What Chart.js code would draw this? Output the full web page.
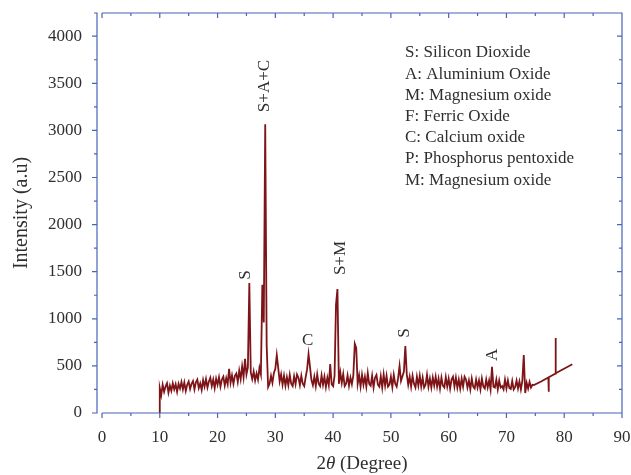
<!DOCTYPE html>
<html>
<head>
<meta charset="utf-8">
<script src="https://cdn.jsdelivr.net/npm/chart.js@4/dist/chart.umd.min.js"></script>
<style>
  body { margin: 0; background: #fff; }
  canvas { display: block; }
</style>
</head>
<body>
<canvas id="xrdChart" width="631" height="475"></canvas>
<script>
// diffraction angle grid: first reading and spacing (degrees)
const firstAngle = 10;
const angleStep = 0.25;

// intensity, one row per degree (10.00, 10.25, 10.50, 10.75 ...)
const intensity = [
  265, 190, 300, 225,
  280, 315, 215, 290,
  235, 315, 250, 305,
  225, 310, 260, 330,
  250, 325, 235, 300,
  335, 255, 310, 340,
  250, 325, 355, 265,
  315, 245, 350, 280,
  360, 270, 335, 375,
  285, 355, 265, 365,
  300, 380, 280, 355,
  385, 290, 370, 305,
  470, 320, 400, 310,
  395, 420, 330, 450,
  360, 495, 380, 575,
  410, 485, 1380, 430,
  360, 440, 345, 420,
  355, 480, 410, 1360,
  960, 3065, 720, 275,
  310, 395, 320, 425,
  470, 615, 480, 335,
  410, 300, 395, 290,
  380, 295, 405, 310,
  285, 390, 305, 410,
  375, 295, 395, 310,
  285, 380, 465, 625,
  490, 350, 295, 385,
  285, 410, 310, 285,
  400, 300, 385, 275,
  375, 295, 520, 305,
  285, 395, 1150, 1315,
  310, 430, 320, 415,
  285, 310, 400, 290,
  375, 305, 400, 735,
  690, 310, 400, 280,
  405, 300, 385, 280,
  425, 310, 290, 395,
  270, 375, 405, 300,
  280, 390, 270, 410,
  290, 395, 280, 300,
  385, 275, 405, 310,
  280, 370, 500, 340,
  390, 440, 710, 410,
  300, 385, 280, 395,
  310, 270, 385, 290,
  395, 280, 375, 270,
  300, 405, 280, 365,
  270, 375, 290, 385,
  280, 365, 260, 375,
  290, 270, 380, 280,
  365, 260, 355, 385,
  280, 375, 270, 355,
  260, 365, 280, 385,
  355, 270, 345, 250,
  365, 280, 260, 355,
  270, 345, 250, 365,
  280, 260, 355, 270,
  345, 250, 490, 280,
  270, 355, 250, 345,
  270, 285, 250, 355,
  260, 345, 265, 255,
  340, 250, 275, 345,
  260, 335, 250, 340,
  615, 212, 320, 260,
  330, 270, 300, 297
];

// smooth tail of the scan with its two spikes
const tailAngles = [76.0, 77.25, 77.3, 77.35, 78.45, 78.5, 78.55, 81.4];
const tailValues = [335, 378, 226, 380, 418, 796, 421, 517];

// peak labels: text, angle, intensity, rotated?
const peakText = ["S", "S+A+C", "S+M", "C", "S", "A"];
const peakAngle = [24.9, 28.2, 41.2, 35.6, 52.4, 67.6];
const peakLevel = [1465, 3471, 1645, 764, 849, 616];
const peakRotated = [true, true, true, false, true, true];

const phaseKey = [
  "S: Silicon Dioxide",
  "A: Aluminium Oxide",
  "M: Magnesium oxide",
  "F: Ferric Oxide",
  "C: Calcium oxide",
  "P: Phosphorus pentoxide",
  "M: Magnesium oxide"
];

const xTicks = [0, 10, 20, 30, 40, 50, 60, 70, 80, 90];
const yTicks = [0, 500, 1000, 1500, 2000, 2500, 3000, 3500, 4000];

const axisBlue = "#4865b5";
const traceRed = "#7e1417";
const textGrey = "#2f2f2f";
const serif = "'Liberation Serif', 'DejaVu Serif', serif";

// build the point table
const points = [{ x: firstAngle, y: 0 }];
intensity.forEach((v, i) => points.push({ x: firstAngle + i * angleStep, y: v }));
tailAngles.forEach((a, i) => points.push({ x: a, y: tailValues[i] }));

// frame, offset left axis, ticks, labels and titles
const decorations = {
  id: "decorations",
  afterDraw(chart) {
    const { ctx, chartArea: area, scales } = chart;
    const xs = scales.x, ys = scales.y;
    const axisX = area.left - 5;
    ctx.save();
    ctx.strokeStyle = axisBlue;
    ctx.lineWidth = 1.2;
    ctx.beginPath();
    // top, right and bottom lines
    ctx.moveTo(area.left, area.top);
    ctx.lineTo(area.right, area.top);
    ctx.lineTo(area.right, area.bottom);
    ctx.lineTo(area.left, area.bottom);
    // offset left axis with end caps
    ctx.moveTo(axisX - 3, area.top);
    ctx.lineTo(axisX, area.top);
    ctx.lineTo(axisX, area.bottom);
    ctx.lineTo(axisX - 3, area.bottom);
    // x ticks (major 10, minor 5)
    for (let v = 0; v <= 90; v += 5) {
      const px = xs.getPixelForValue(v);
      const len = v % 10 === 0 ? 5 : 3;
      ctx.moveTo(px, area.bottom); ctx.lineTo(px, area.bottom + len);
      ctx.moveTo(px, area.top); ctx.lineTo(px, area.top + len);
    }
    // y ticks (major 500, minor 250)
    for (let v = 0; v <= 4000; v += 250) {
      const py = ys.getPixelForValue(v);
      const len = v % 500 === 0 ? 5 : 3;
      ctx.moveTo(axisX, py); ctx.lineTo(axisX - len, py);
      ctx.moveTo(area.right, py); ctx.lineTo(area.right - len, py);
    }
    ctx.stroke();

    ctx.fillStyle = textGrey;
    ctx.font = "17px " + serif;
    // peak labels
    peakText.forEach((t, i) => {
      const px = xs.getPixelForValue(peakAngle[i]);
      const py = ys.getPixelForValue(peakLevel[i]);
      ctx.save();
      ctx.translate(px, py);
      if (peakRotated[i]) ctx.rotate(-Math.PI / 2);
      ctx.textAlign = "center";
      ctx.textBaseline = "middle";
      ctx.fillText(t, 0, 0);
      ctx.restore();
    });
    // phase key
    ctx.textAlign = "left";
    ctx.textBaseline = "middle";
    phaseKey.forEach((t, i) => ctx.fillText(t, area.left + 303, area.top + 40 + i * 21.2));

    // y title
    ctx.save();
    ctx.font = "20px " + serif;
    ctx.translate(22, 213);
    ctx.rotate(-Math.PI / 2);
    ctx.textAlign = "center";
    ctx.fillText("Intensity (a.u)", 0, 0);
    ctx.restore();

    // x title with italic theta
    const parts = [["2", "19px "], ["\u03b8", "italic 19px "], [" (Degree)", "19px "]];
    let total = 0;
    parts.forEach(p => { ctx.font = p[1] + serif; total += ctx.measureText(p[0]).width; });
    let cx = (area.left + area.right) / 2 - total / 2;
    ctx.textAlign = "left";
    parts.forEach(p => {
      ctx.font = p[1] + serif;
      ctx.fillText(p[0], cx, 464);
      cx += ctx.measureText(p[0]).width;
    });
    ctx.restore();
  }
};

new Chart(document.getElementById("xrdChart"), {
  type: "line",
  data: {
    datasets: [{
      data: points,
      borderColor: traceRed,
      borderWidth: 1.8,
      pointRadius: 0,
      tension: 0,
      fill: false
    }]
  },
  options: {
    responsive: false,
    animation: false,
    layout: { padding: { top: 13, right: 9, left: 0, bottom: 0 } },
    plugins: { legend: { display: false }, tooltip: { enabled: false } },
    scales: {
      x: {
        type: "linear",
        min: 0,
        max: 90,
        afterFit(scale) {
          scale.height = 62;
          scale.paddingLeft = 0;
          scale.paddingRight = 0;
        },
        afterBuildTicks(scale) { scale.ticks = xTicks.map(v => ({ value: v })); },
        grid: { display: false, drawTicks: false, tickLength: 0 },
        border: { display: false },
        ticks: { color: textGrey, font: { family: serif, size: 17 }, padding: 14, maxRotation: 0 }
      },
      y: {
        type: "linear",
        min: 0,
        max: 4246,
        afterFit(scale) {
          scale.width = 102;
          scale.paddingTop = 0;
          scale.paddingBottom = 0;
        },
        afterBuildTicks(scale) { scale.ticks = yTicks.map(v => ({ value: v })); },
        grid: { display: false, drawTicks: false, tickLength: 0 },
        border: { display: false },
        ticks: {
          color: textGrey,
          font: { family: serif, size: 17 },
          padding: 20,
          callback: v => String(v)
        }
      }
    }
  },
  plugins: [decorations]
});
</script>
</body>
</html>
